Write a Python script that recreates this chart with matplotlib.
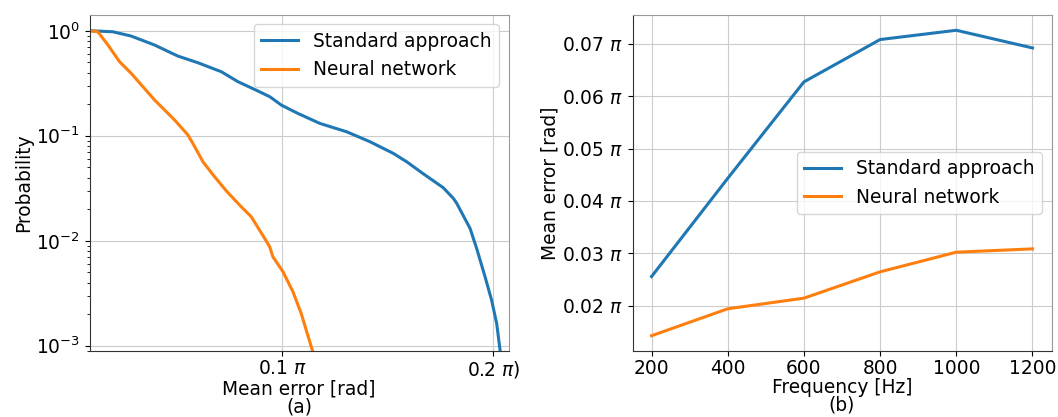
import numpy as np
import matplotlib
matplotlib.use("Agg")
import matplotlib.pyplot as plt
from matplotlib.ticker import FixedLocator, FuncFormatter

# ---- Panel (a): CCDF of mean error (x in units of pi) ----
std_err = [0.0090, 0.0198, 0.0285, 0.0396, 0.0506, 0.0601, 0.0712, 0.0791, 0.0885, 0.0942,
           0.0996, 0.1075, 0.1179, 0.1306, 0.1416, 0.1526, 0.1590, 0.1668, 0.1763, 0.1811,
           0.1827, 0.1890, 0.1921, 0.1961, 0.1992, 0.2016, 0.2032, 0.2036]
std_prob = [1.0, 0.978, 0.890, 0.731, 0.574, 0.496, 0.407, 0.327, 0.267, 0.235,
            0.196, 0.163, 0.131, 0.109, 0.0877, 0.068, 0.0565, 0.0435, 0.032, 0.0253,
            0.0227, 0.0131, 0.00847, 0.00454, 0.00272, 0.00163, 0.00091, 0.00079]

nn_err = [0.0090, 0.0127, 0.0175, 0.0230, 0.0285, 0.0396, 0.0491, 0.0554, 0.0586, 0.0625,
          0.0680, 0.0739, 0.0806, 0.0854, 0.0917, 0.0941, 0.0956, 0.1004, 0.1051, 0.1090,
          0.1138, 0.1146]
nn_prob = [1.0, 0.978, 0.731, 0.507, 0.393, 0.219, 0.141, 0.1016, 0.0786, 0.0565,
           0.0407, 0.0293, 0.0211, 0.0169, 0.01054, 0.00877, 0.00704, 0.00507, 0.00327, 0.00204,
           0.000977, 0.00087]

# ---- Panel (b): mean error vs frequency (in units of pi) ----
freq = [200, 400, 600, 800, 1000, 1200]
std_mean = [0.02558, 0.04432, 0.06272, 0.0708, 0.07257, 0.0692]
nn_mean = [0.01429, 0.01943, 0.02146, 0.02648, 0.03023, 0.03086]

labels = ["Standard approach", "Neural network"]
x_ticks_a = [0.1, 0.2]
x_ticklabels_a = ["0.1 $\\pi$", "0.2 $\\pi$)"]
y_ticks_b = [0.02, 0.03, 0.04, 0.05, 0.06, 0.07]

FS = 13.4
plt.rcParams["font.size"] = FS
blue, orange = "#1f77b4", "#ff7f0e"

fig = plt.figure(figsize=(10.58, 4.17), dpi=100)
W, H = 1058, 417
axa = fig.add_axes([90 / W, (H - 351) / H, 418.5 / W, 336 / H])
axb = fig.add_axes([632.5 / W, (H - 351) / H, 419 / W, 336 / H])

for ax in (axa, axb):
    for s in ("top", "right"):
        ax.spines[s].set_color("#999999")
    for s in ("left", "bottom"):
        ax.spines[s].set_color("#333333")
    ax.grid(True, color="#cccccc", linewidth=0.8)
    ax.set_axisbelow(True)
    ax.tick_params(labelsize=FS)
    ax.tick_params(axis="x", pad=2)

axa.plot(std_err, std_prob, color=blue, lw=2.2, label=labels[0])
axa.plot(nn_err, nn_prob, color=orange, lw=2.2, label=labels[1])
axa.set_yscale("log")
axa.set_xlim(0.0090, 0.2072)
axa.set_ylim(10 ** -3.05, 10 ** 0.15)
axa.xaxis.set_major_locator(FixedLocator(x_ticks_a))
axa.set_xticklabels(x_ticklabels_a)
axa.set_xlabel("Mean error [rad]\n(a)", fontsize=FS, labelpad=0, linespacing=0.95)
axa.set_ylabel("Probability", fontsize=FS, labelpad=2)
axa.legend(loc="upper right", fontsize=FS, framealpha=0.8)

axb.plot(freq, std_mean, color=blue, lw=2.2, label=labels[0])
axb.plot(freq, nn_mean, color=orange, lw=2.2, label=labels[1])
axb.yaxis.set_major_locator(FixedLocator(y_ticks_b))
axb.yaxis.set_major_formatter(FuncFormatter(lambda v, p: f"{v:.2f} $\\pi$"))
axb.set_xticks(freq)
axb.set_xlabel("Frequency [Hz]\n(b)", fontsize=FS, labelpad=0, linespacing=0.95)
axb.set_ylabel("Mean error [rad]", fontsize=FS, labelpad=2)
axb.legend(loc="center right", bbox_to_anchor=(1.0, 0.5), fontsize=FS, framealpha=0.8)

fig.savefig("out.png", dpi=100)
